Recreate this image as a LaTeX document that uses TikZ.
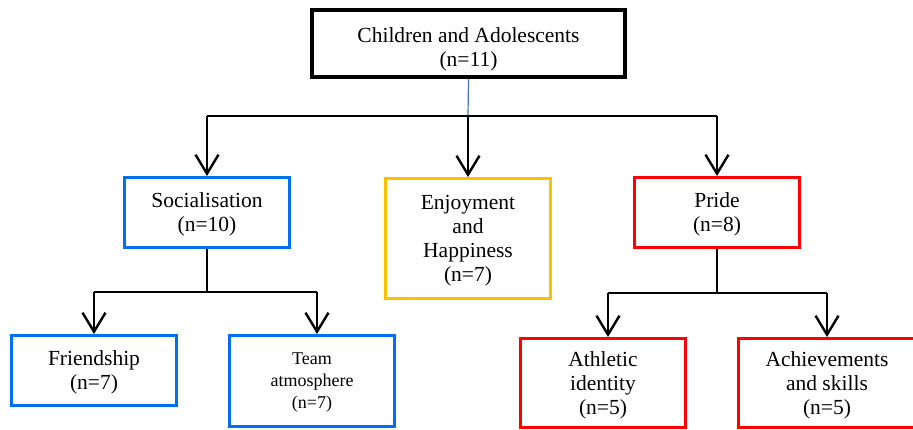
\documentclass[tikz,border=0pt]{standalone}
\usepackage{fontspec}
\setmainfont{Liberation Serif}
\usepackage{xcolor}
\usepackage{tikz}
\usetikzlibrary{positioning,calc,arrows.meta}

\definecolor{themeblue}{RGB}{0,112,240}
\definecolor{themegold}{RGB}{255,192,0}
\definecolor{themered}{RGB}{255,0,0}
\definecolor{linkblue}{RGB}{68,114,196}

\begin{document}
\begin{tikzpicture}[
    x=1pt, y=-1pt,
    box/.style={rectangle, draw, line width=3pt, minimum width=165pt, minimum height=70pt, inner sep=0pt, align=center, text depth=0pt, font=\fontsize{21.5}{24}\selectfont},
    rootbox/.style={box, draw=black, line width=4pt, minimum width=313pt, minimum height=67pt, text height=46pt},
    social/.style={box, draw=themeblue},
    enjoy/.style={box, draw=themegold},
    pride/.style={box, draw=themered},
    connection/.style={line width=2pt, black},
    arrow/.style={connection, line width=2.4pt, -{Straight Barb[length=19pt,width=23pt]}}
]
    \useasboundingbox (0,0) rectangle (913,430);

    % boxes
    \node[rootbox] (root) at (468.5,43.5) {Children and Adolescents\\(n=11)};
    \node[social] (soc) at (207,212.5) {Socialisation\\(n=10)};
    \node[enjoy, minimum height=120pt] (enj) at (468,238.5) {Enjoyment\\and\\Happiness\\(n=7)};
    \node[pride] (pri) at (717,212.5) {Pride\\(n=8)};
    \node[social] (fri) at (94,370.5) {Friendship\\(n=7)};
    \node[social, minimum height=91pt, font=\fontsize{18}{22}\selectfont] (team) at (312,381) {Team\\atmosphere\\(n=7)};
    \node[pride, minimum height=89pt] (ath) at (603,383) {Athletic\\identity\\(n=5)};
    \node[pride, minimum height=89pt, minimum width=178pt] (ach) at (827,383) {Achievements\\and skills\\(n=5)};

    \coordinate (rootbus) at (468,116);
    \coordinate (socbus) at (207,292);
    \coordinate (pribus) at (717,293);

    % first level
    \draw[line width=1.2pt, linkblue] (root.south) -- (rootbus);
    \draw[connection] (rootbus -| soc.north) -- (rootbus -| pri.north);
    \draw[arrow] (rootbus -| soc.north) -- (soc.north);
    \draw[arrow] (rootbus) -- (enj.north);
    \draw[arrow] (rootbus -| pri.north) -- (pri.north);

    % socialisation
    \draw[connection] (soc.south) -- (socbus);
    \draw[connection] (socbus -| fri.north) -- ([xshift=5pt]socbus -| team.north);
    \draw[arrow] (socbus -| fri.north) -- (fri.north);
    \draw[arrow] ([xshift=5pt]socbus -| team.north) -- ([xshift=5pt]team.north);

    % pride
    \draw[connection] (pri.south) -- (pribus);
    \draw[connection] ([xshift=5pt]pribus -| ath.north) -- (pribus -| ach.north);
    \draw[arrow] ([xshift=5pt]pribus -| ath.north) -- ([xshift=5pt]ath.north);
    \draw[arrow] (pribus -| ach.north) -- (ach.north);
\end{tikzpicture}
\end{document}
